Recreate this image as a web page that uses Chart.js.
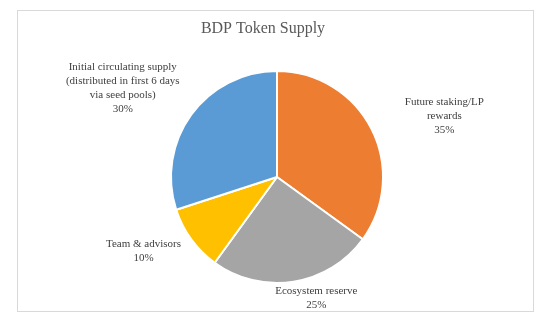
<!DOCTYPE html>
<html>
<head>
<meta charset="utf-8">
<script src="https://cdn.jsdelivr.net/npm/chart.js@4.4.0/dist/chart.umd.min.js"></script>
<style>
  html, body { margin: 0; padding: 0; background: #fff; }
</style>
</head>
<body>
<canvas id="chart" width="548" height="324"></canvas>
<script>
// slice names (one entry per text line) and their share of supply, clockwise from 12 o'clock
var categories = [
  ['Future staking/LP', 'rewards'],
  ['Ecosystem reserve'],
  ['Team & advisors'],
  ['Initial circulating supply', '(distributed in first 6 days', 'via seed pools)']
];
var shares = [35, 25, 10, 30];
var sliceColors = ['#ED7D31', '#A5A5A5', '#FFC000', '#5B9BD5'];

// frame + title, drawn behind the pie
var frameAndTitle = {
  id: 'frameAndTitle',
  beforeDraw: function(chart, args, opts) {
    var ctx = chart.ctx;
    ctx.save();
    ctx.fillStyle = '#fff';
    ctx.fillRect(0, 0, chart.width, chart.height);
    ctx.strokeStyle = '#d9d9d9';
    ctx.lineWidth = 1;
    ctx.strokeRect(17.5, 10.5, 516, 301);
    ctx.font = opts.font;
    ctx.fillStyle = opts.color;
    ctx.textAlign = 'center';
    ctx.textBaseline = 'middle';
    ctx.fillText(opts.text, opts.x, opts.y);
    ctx.restore();
  }
};

// category name + percentage placed outside each slice
var outsideLabels = {
  id: 'outsideLabels',
  afterDatasetsDraw: function(chart, args, opts) {
    var ctx = chart.ctx;
    var meta = chart.getDatasetMeta(0);
    var values = chart.data.datasets[0].data;
    var total = values.reduce(function(a, b) { return a + b; }, 0);
    ctx.save();
    ctx.font = opts.font;
    ctx.fillStyle = opts.color;
    ctx.textAlign = 'center';
    ctx.textBaseline = 'middle';
    meta.data.forEach(function(arc, i) {
      var p = arc.getProps(['x', 'y', 'startAngle', 'endAngle', 'outerRadius'], true);
      var mid = (p.startAngle + p.endAngle) / 2 + opts.angleShift[i] * Math.PI / 180;
      var d = p.outerRadius * opts.distance[i];
      var cx = p.x + Math.cos(mid) * d;
      var cy = p.y + Math.sin(mid) * d;
      var lines = chart.data.labels[i].concat([Math.round(values[i] / total * 100) + '%']);
      var top = cy - (lines.length - 1) * opts.lineHeight / 2;
      lines.forEach(function(t, k) {
        ctx.fillText(t, cx, top + k * opts.lineHeight);
      });
    });
    ctx.restore();
  }
};

new Chart(document.getElementById('chart'), {
  type: 'pie',
  data: {
    labels: categories,
    datasets: [{
      data: shares,
      backgroundColor: sliceColors,
      borderColor: '#fff',
      borderWidth: 2
    }]
  },
  options: {
    responsive: false,
    animation: false,
    events: [],
    layout: { padding: { left: 170, right: 164, top: 70, bottom: 40 } },
    plugins: {
      legend: { display: false },
      tooltip: { enabled: false },
      frameAndTitle: {
        text: 'BDP Token Supply',
        font: '16px "Liberation Serif"',
        color: '#595959',
        x: 263,
        y: 29
      },
      outsideLabels: {
        font: '11px "Liberation Serif"',
        color: '#404040',
        lineHeight: 14,
        distance: [1.68, 1.2, 1.44, 1.68],
        angleShift: [7, -9, 7, -6]
      }
    }
  },
  plugins: [frameAndTitle, outsideLabels]
});
</script>
</body>
</html>
